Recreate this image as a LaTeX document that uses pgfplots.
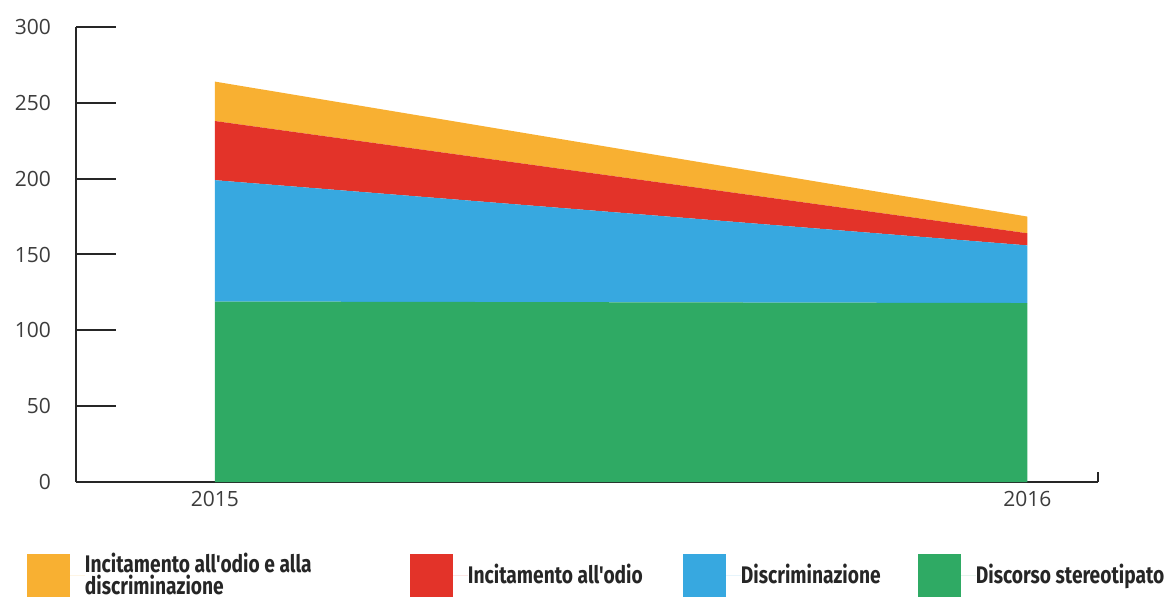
\documentclass[border=0pt]{standalone}
\usepackage{pgfplots}
\pgfplotsset{compat=1.18}
\usepackage{fontspec}
\setmainfont{Open Sans}
\newfontfamily\legfont[FakeStretch=0.8]{Fira Sans}
\definecolor{cOr}{RGB}{248,176,50}
\definecolor{cRe}{RGB}{227,51,41}
\definecolor{cBl}{RGB}{55,168,224}
\definecolor{cGr}{RGB}{47,170,100}
\definecolor{cTx}{RGB}{60,60,60}
\begin{document}
\begin{tikzpicture}
\useasboundingbox (0,0) rectangle (583pt,299.5pt);
\begin{axis}[
  at={(38pt,58.5pt)}, anchor=south west,
  scale only axis, width=511pt, height=227.5pt,
  xmin=2014.829, xmax=2016.087, ymin=0, ymax=300,
  axis x line=bottom, axis y line=left,
  axis line style={-, line width=1pt, color=black!85},
  ytick={0,50,100,150,200,250,300},
  tick align=inside, major tick length=20pt,
  y tick style={line width=1pt, color=black!85},
  xtick={2015,2016}, xticklabels={2015,2016},
  x tick style={draw=none},
  /pgf/number format/assume math mode=true,
  /pgf/number format/1000 sep={},
  tick label style={font=\fontsize{10.5}{12}\selectfont, color=cTx},
  yticklabel style={xshift=-9pt},
  xticklabel style={yshift=-1pt},
  stack plots=y,
  legend image code/.code={\fill[#1] (0pt,-10.75pt) rectangle (21.5pt,10.75pt); \path (21.5pt,0pt) -- (29pt,0pt);},
  reverse legend,
  legend columns=4,
  legend cell align=left,
  legend style={at={(-0.048,-0.156)}, anchor=north west, draw=none, fill=none,
    inner sep=0pt, outer sep=0pt, column sep=0pt, row sep=0pt,
    nodes={inner sep=0pt, outer sep=0pt},
    font=\legfont\bfseries\fontsize{12}{12}\selectfont, text=black!85},
  clip=false,
]
\addplot[fill=cGr, draw=none] coordinates {(2015,119) (2016,118)} \closedcycle;
\addlegendentry{Discorso stereotipato}
\addplot[fill=cBl, draw=none] coordinates {(2015,80) (2016,38)} \closedcycle;
\addlegendentry{\makebox[88.5pt][l]{Discriminazione}}
\addplot[fill=cRe, draw=none] coordinates {(2015,39) (2016,8)} \closedcycle;
\addlegendentry{\makebox[107.5pt][l]{Incitamento all'odio}}
\addplot[fill=cOr, draw=none] coordinates {(2015,26) (2016,11)} \closedcycle;
\addlegendentry{\makebox[162.5pt][l]{\raisebox{6pt}{\begin{tabular}{@{}l@{}}Incitamento all'odio e alla\\[-2.5pt]discriminazione\end{tabular}}}}
\draw[line width=1pt, color=black!85] (axis cs:2016.087,0) -- ++(0pt,5pt);
\end{axis}
\end{tikzpicture}
\end{document}
